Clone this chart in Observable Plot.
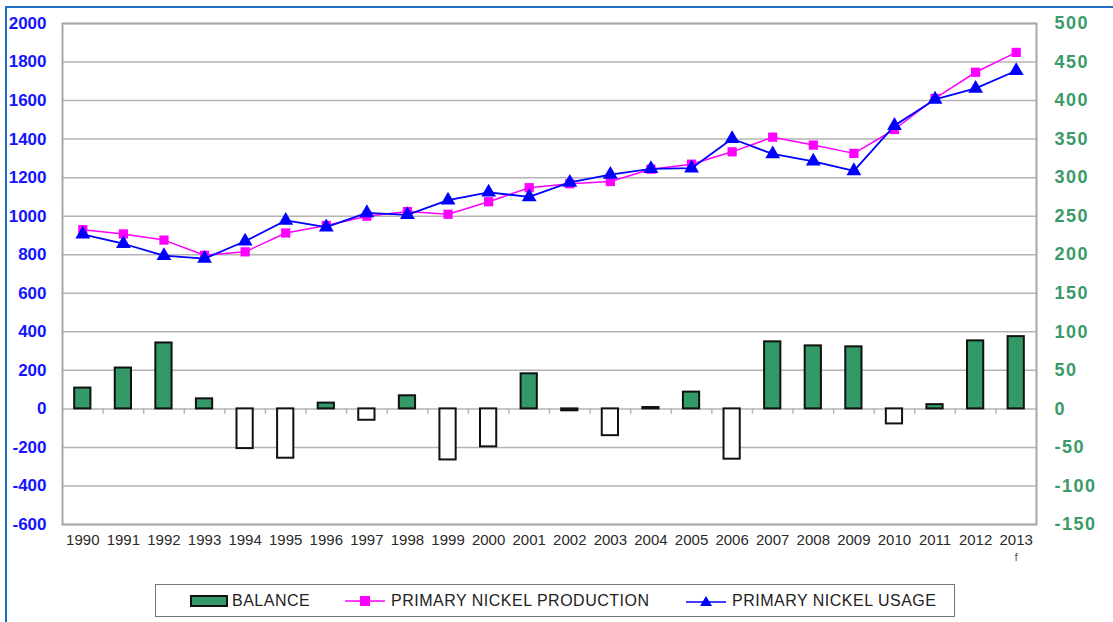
<!DOCTYPE html>
<html><head><meta charset="utf-8">
<script src="https://cdn.jsdelivr.net/npm/d3@7"></script>
<script src="https://cdn.jsdelivr.net/npm/@observablehq/plot@0.6"></script>
<style>
html,body{margin:0;padding:0;background:#fff;overflow:hidden;width:1113px;height:622px;}
#wrap{position:relative;width:1113px;height:622px;font-family:"Liberation Sans",Arial,sans-serif;}
#border{position:absolute;left:5px;top:6px;width:1300px;height:800px;border:2px solid #1c6fbf;box-sizing:border-box;}
#chart{position:absolute;left:0;top:0;}
#legend{position:absolute;left:155px;top:584px;width:800px;height:33px;border:1px solid #777;box-sizing:border-box;background:#fff;font-size:16px;letter-spacing:0.5px;color:#222;}
#legend .it{position:absolute;top:7px;display:flex;align-items:center;height:18px;white-space:nowrap;}
#legend svg{display:block;margin-right:4px;}
</style></head>
<body><div id="wrap"><div id="border"></div><div id="chart"></div>
<div id="legend">
 <div class="it" style="left:34px"><svg width="38" height="12"><rect x="1" y="1" width="36" height="10" fill="#339966" stroke="#111" stroke-width="2"/></svg>BALANCE</div>
 <div class="it" style="left:189px"><svg width="42" height="14"><line x1="0" y1="7" x2="40" y2="7" stroke="#ff00ff" stroke-width="1.5"/><rect x="15" y="2" width="10" height="10" fill="#ff00ff"/></svg>PRIMARY NICKEL PRODUCTION</div>
 <div class="it" style="left:530px"><svg width="42" height="14"><line x1="0" y1="8" x2="40" y2="8" stroke="#0000ff" stroke-width="1.5"/><path d="M20,2 L26,12 L14,12 Z" fill="#0000ff"/></svg>PRIMARY NICKEL USAGE</div>
</div></div>
<script>
const years = ["1990","1991","1992","1993","1994","1995","1996","1997","1998","1999","2000","2001","2002","2003","2004","2005","2006","2007","2008","2009","2010","2011","2012","2013"];
const balance = [108,212,342,52,-206,-256,30,-59,68,-265,-197,182,-10,-139,7,87,-261,348,327,322,-78,22,353,375];
const production = [930,908,876,797,815,913,952,1000,1024,1010,1075,1148,1168,1180,1244,1270,1334,1410,1369,1326,1450,1611,1747,1850];
const usage = [906,857,795,780,870,978,943,1017,1007,1083,1124,1100,1175,1216,1246,1249,1402,1323,1285,1235,1470,1606,1663,1755];
const leftTicks = [-600,-400,-200,0,200,400,600,800,1000,1200,1400,1600,1800,2000];
const rightFactor = 4; // right axis = left / 4

const bars = years.map((y,i)=>({year:y, v:balance[i]}));
const prod = years.map((y,i)=>({year:y, v:production[i]}));
const use = years.map((y,i)=>({year:y, v:usage[i]}));

const chart = Plot.plot({
  width:1113, height:575,
  marginLeft:62, marginRight:77, marginTop:23, marginBottom:51,
  style:{fontFamily:"Liberation Sans, Arial, sans-serif", background:"transparent"},
  x:{type:"band", domain:years, paddingInner:0.6, paddingOuter:0.3, align:0.5, round:false},
  y:{domain:[-600,2000]},
  marks:[
    Plot.ruleY(leftTicks, {stroke:"#b4b4b4", strokeWidth:1.5}),
    Plot.ruleX(years.slice(0,-1), {x:d=>d, dx:20.3, y1:0, y2:-28, stroke:"#b4b4b4", strokeWidth:1.5}),
    Plot.frame({stroke:"#a8a8a8", strokeWidth:2}),
    Plot.axisY({ticks:leftTicks, tickSize:0, tickPadding:16, tickFormat:d=>String(d), fontSize:17, fontWeight:"bold", fill:"#1414ff", label:null}),
    Plot.axisY({ticks:leftTicks, anchor:"right", tickSize:0, tickPadding:18, tickFormat:d=>String(d/rightFactor), fontSize:18, fontWeight:"bold", fill:"#3a9a68", label:null}),
    Plot.axisX({tickSize:0, tickPadding:10, fontSize:15, fill:"#2a2a2a", label:null}),
    Plot.text(["2013"], {x:d=>d, y:-600, dy:33, text:()=>"f", fontSize:10, fill:"#444"}),
    Plot.barY(bars, {x:"year", y:"v", fill:d=>d.v>=0?"#339966":"#ffffff", stroke:"#111", strokeWidth:2}),
    Plot.line(prod, {x:"year", y:"v", stroke:"#ff00ff", strokeWidth:1.5}),
    Plot.dot(prod, {x:"year", y:"v", symbol:"square", r:5.2, fill:"#ff00ff", stroke:"none"}),
    Plot.line(use, {x:"year", y:"v", stroke:"#0000ff", strokeWidth:1.8}),
    Plot.dot(use, {x:"year", y:"v", symbol:"triangle", r:5.5, fill:"#0000ff", stroke:"none"})
  ]
});
const yLabels = chart.querySelectorAll('g[aria-label="y-axis tick label"]');
if (yLabels[1]) yLabels[1].setAttribute("letter-spacing", "1.5");
document.getElementById("chart").appendChild(chart);
</script></body></html>
